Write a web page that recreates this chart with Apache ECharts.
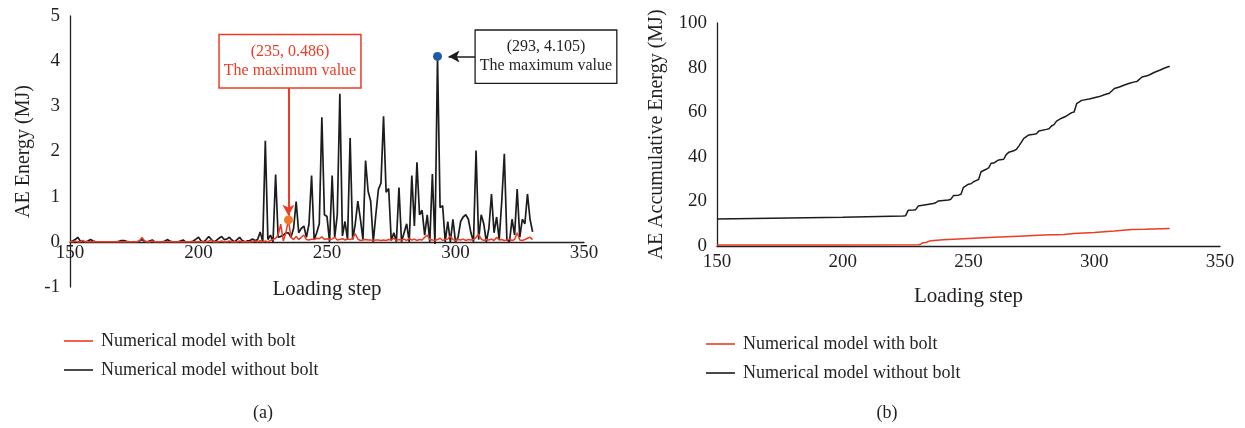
<!DOCTYPE html>
<html>
<head>
<meta charset="utf-8">
<script src="https://cdn.jsdelivr.net/npm/echarts@6/dist/echarts.min.js"></script>
<style>html,body{margin:0;padding:0;background:#fff;}#c{width:1245px;height:428px;}</style>
</head>
<body>
<div id="c"></div>
<script>
// ---------- (a) AE energy per loading step, steps 150..330 ----------
var stepStart = 150;
var energyWithout = [
  0, 0.02, 0.05, 0.1, 0.02, 0, 0, 0.02, 0.05, 0.02,
  0, 0, 0, 0, 0, 0, 0, 0, 0, 0.01,
  0.03, 0.03, 0.01, 0, 0, 0, 0, 0.02, 0.05, 0.01,
  0, 0.02, 0.04, 0, 0, 0, 0, 0.02, 0.05, 0.01,
  0, 0, 0, 0.02, 0.04, 0, 0, 0, 0.02, 0.06,
  0.1, 0.02, 0, 0.05, 0.12, 0.05, 0, 0.03, 0.08, 0.12,
  0.05, 0.06, 0.1, 0.04, 0, 0.05, 0.1, 0.03, 0, 0.02,
  0.03, 0.06, 0.03, 0.05, 0.22, 0, 2.24, 0.05, 0.15, 0,
  1.49, 0.1, 0.12, 0.15, 0.2, 0.2, 0.1, 0.3, 0.89, 0.2,
  0.3, 0.35, 0.1, 0.4, 1.47, 0.05, 0.2, 0.4, 2.76, 0.6,
  0.56, 0, 1.47, 0.1, 0.6, 3.28, 0.13, 0.45, 0.05, 2.3,
  0.05, 0.4, 0.9, 0.5, 0.05, 1.8, 1.12, 0.9, 0, 0.6,
  1.16, 1.3, 2.78, 1.1, 1.18, 0.03, 0.2, 0, 1.2, 0,
  0.2, 0.4, 0, 1.47, 0.35, 1.76, 0.6, 0.7, 0.15, 0.6,
  0, 1.5, -0.05, 4.105, 0.76, 0.8, 0, 0.45, 0, 0.5,
  0, 0.1, 0.45, 0.55, 0.6, 0.5, 0.2, 0, 2.02, 0.05,
  0.6, 0.4, 0, 0.3, 1.06, 0.2, 0.55, 0.05, 0.9, 1.95,
  0.05, 0, 0.5, 0.15, 1.17, 0.1, 0.5, 0.4, 1.06, 0.5,
  0.22
];
var energyWith = [
  0, 0, 0.02, 0, 0, 0.03, 0, 0, 0, 0,
  0, 0, 0, 0, 0, 0, 0, 0, 0, 0,
  0, 0, 0, 0, 0, 0, 0, 0.02, 0.1, 0.02,
  0, 0, 0.02, 0, 0, 0, 0, 0, 0, 0,
  0, 0, 0, 0, 0, 0, 0, 0, 0, 0,
  0, 0, 0, 0, 0.02, 0.03, 0, 0, 0, 0.02,
  0, 0, 0.02, 0, 0, 0, 0.02, 0, 0, 0,
  0, 0, 0.02, 0, 0.03, 0, 0.02, 0, 0.03, 0.05,
  0.08, 0.15, 0.39, 0.02, 0.2, 0.486, 0.1, 0.05, 0.12, 0.05,
  0.1, 0.15, 0.05, 0.04, 0.06, 0.05, 0.08, 0.07, 0.11, 0.05,
  0.07, 0.05, 0.06, 0.1, 0.04, 0.05, 0.07, 0.04, 0.06, 0.05,
  0.08, 0.18, 0.06, 0.03, 0.04, 0.05, 0.04, 0.04, 0.03, 0.04,
  0.04, 0.03, 0.04, 0.03, 0.05, 0.04, 0.08, 0.03, 0.05, 0.04,
  0.06, 0.03, 0.08, 0.04, 0.06, 0.03, 0.05, 0.04, 0.1, 0.15,
  0.05, 0.04, 0.03, 0.05, 0.08, 0.03, 0.05, 0.06, 0.13, 0.05,
  0.03, 0.05, 0.04, 0.06, 0.03, 0.05, 0.04, 0.05, 0.1, 0.17,
  0.06, 0.03, 0.05, 0.04, 0.06, 0.03, 0.1, 0.04, 0.05, 0.03,
  0.04, 0.06, 0.03, 0.05, 0.2, 0.04, 0.03, 0.05, 0.08, 0.1,
  0.05
];
var maxWith = [235, 0.486];
var maxWithout = [293, 4.105];

// ---------- (b) AE accumulative energy ----------
var accStepsWithout = [150, 200, 224, 225, 226, 228, 229, 230, 236, 237, 238, 242, 243, 244, 246, 247, 248, 250, 251, 252, 253, 254, 255, 257, 258, 259, 260, 262, 264, 265, 266, 268, 269, 270, 272, 274, 276, 277, 278, 281, 282, 283, 284, 285, 287, 289, 291, 292, 293, 295, 298, 300, 302, 304, 306, 308, 310, 312, 314, 316, 317, 319, 321, 322, 324, 326, 328, 330];
var accWithout = [12.1, 12.9, 13.5, 13.6, 16.0, 16.1, 16.3, 17.9, 19.1, 19.4, 20.2, 20.6, 21.0, 22.6, 22.8, 23.2, 26.3, 27.7, 27.9, 28.8, 29.3, 29.8, 33.3, 34.4, 35.0, 37.1, 37.2, 38.6, 38.9, 41.0, 42.0, 42.7, 43.3, 44.8, 48.3, 49.8, 50.1, 50.3, 51.6, 52.3, 52.6, 53.8, 54.4, 56.0, 57.3, 58.3, 59.8, 60.1, 63.8, 65.3, 65.9, 66.5, 67.0, 67.8, 68.5, 70.6, 71.3, 72.2, 73.0, 73.6, 73.8, 75.8, 76.3, 76.8, 77.9, 78.8, 79.8, 80.6];
var accStepsWith = [150, 200, 230, 231, 232, 233, 235, 240, 250, 260, 270, 280, 288, 292, 300, 308, 315, 320, 330];
var accWith = [0.45, 0.5, 0.6, 0.8, 1.5, 1.6, 2.4, 2.8, 3.4, 3.9, 4.4, 4.9, 5.2, 5.6, 6.1, 6.7, 7.4, 7.5, 7.8];

var nameWith = 'Numerical model with bolt';
var nameWithout = 'Numerical model without bolt';
var xTicks = {min: 150, max: 350, interval: 50};

// ---------- build ----------
function seqPairs(start, vals) {
  var out = [];
  for (var i = 0; i < vals.length; i++) out.push([start + i, vals[i]]);
  return out;
}
function zipPairs(xs, ys) {
  return xs.map(function (x, i) { return [x, ys[i]]; });
}

var FONT = 'Liberation Serif';
var TXT = '#231f20';
var RED = '#ee3b24';
var BLK = '#1c1c1c';

// left plot: y from -1..5 over 271px; x-axis sits at y = 0
var leftGridH = 271;
var zeroOffset = -leftGridH * (0 - (-1)) / (5 - (-1));

function xAxisCfg(gi, offset, gap, margin) {
  return {
    type: 'value', gridIndex: gi, min: xTicks.min, max: xTicks.max, interval: xTicks.interval,
    offset: offset,
    name: 'Loading step', nameLocation: 'middle', nameGap: gap,
    nameTextStyle: {fontFamily: FONT, fontSize: 21, color: TXT},
    axisLine: {show: true, onZero: false, lineStyle: {color: TXT, width: 1.3}},
    axisTick: {show: false},
    splitLine: {show: false},
    axisLabel: {fontFamily: FONT, fontSize: 19, color: TXT, margin: margin}
  };
}
function yAxisCfg(gi, min, max, interval, name, gap) {
  return {
    type: 'value', gridIndex: gi, min: min, max: max, interval: interval,
    name: name, nameLocation: 'middle', nameGap: gap,
    nameTextStyle: {fontFamily: FONT, fontSize: 20, color: TXT},
    axisLine: {show: true, onZero: false, lineStyle: {color: TXT, width: 1.3}},
    axisTick: {show: false},
    splitLine: {show: false},
    axisLabel: {fontFamily: FONT, fontSize: 19, color: TXT, margin: 10}
  };
}

var chart = echarts.init(document.getElementById('c'), null, {renderer: 'canvas'});
var option = {
  animation: false,
  backgroundColor: '#fff',
  grid: [
    {left: 70, top: 16, width: 514, height: leftGridH},
    {left: 717, top: 23, width: 503, height: 223}
  ],
  xAxis: [xAxisCfg(0, zeroOffset, 37, 2), xAxisCfg(1, 0, 40, 7)],
  yAxis: [
    yAxisCfg(0, -1, 5, 1, 'AE Energy (MJ)', 36),
    yAxisCfg(1, 0, 100, 20, 'AE Accumulative Energy (MJ)', 50)
  ],
  legend: [
    {orient: 'vertical', left: 59, top: 327, icon: 'rect', itemWidth: 29, itemHeight: 1.6, itemGap: 11,
     data: [nameWith, nameWithout],
     textStyle: {fontFamily: FONT, fontSize: 18, color: TXT, padding: [0, 0, 0, 3]}},
    {orient: 'vertical', left: 701, top: 330, icon: 'rect', itemWidth: 29, itemHeight: 1.6, itemGap: 11,
     data: [nameWith, nameWithout],
     textStyle: {fontFamily: FONT, fontSize: 18, color: TXT, padding: [0, 0, 0, 3]}}
  ],
  graphic: [
    {type: 'text', x: 263, y: 413, style: {text: '(a)', font: '18px "Liberation Serif"', fill: TXT, textAlign: 'center', textVerticalAlign: 'middle'}},
    {type: 'text', x: 887, y: 413, style: {text: '(b)', font: '18px "Liberation Serif"', fill: TXT, textAlign: 'center', textVerticalAlign: 'middle'}}
  ],
  series: [
    {
      name: nameWithout, type: 'line', xAxisIndex: 0, yAxisIndex: 0,
      data: seqPairs(stepStart, energyWithout), symbol: 'none', z: 2,
      lineStyle: {color: BLK, width: 1.7}, itemStyle: {color: BLK},
      markLine: {
        silent: true, symbol: ['none', 'arrow'], symbolSize: [9, 11],
        lineStyle: {color: BLK, width: 1.5, type: 'solid'}, label: {show: false},
        data: [[{coord: [308, maxWithout[1]]}, {coord: [297.3, maxWithout[1]]}]]
      },
      markPoint: {
        silent: true,
        data: [
          {coord: maxWithout, symbol: 'circle', symbolSize: 9, itemStyle: {color: '#1d5ba6'}, label: {show: false}},
          {coord: [335.2, 4.1], symbol: 'rect', symbolSize: 1, itemStyle: {color: 'rgba(0,0,0,0)'},
           label: {show: true, position: 'inside', formatter: '(' + maxWithout[0] + ', ' + maxWithout[1] + ')\nThe maximum value',
                   fontFamily: FONT, fontSize: 16, lineHeight: 19, color: TXT, backgroundColor: '#fff',
                   borderColor: BLK, borderWidth: 1.3, padding: [7, 4], align: 'center'}}
        ]
      }
    },
    {
      name: nameWith, type: 'line', xAxisIndex: 0, yAxisIndex: 0,
      data: seqPairs(stepStart, energyWith), symbol: 'none', z: 3,
      lineStyle: {color: RED, width: 1.5}, itemStyle: {color: RED},
      markLine: {
        silent: true, symbol: ['none', 'arrow'], symbolSize: [9, 11],
        lineStyle: {color: RED, width: 2, type: 'solid'}, label: {show: false},
        data: [[{coord: [maxWith[0], 3.42]}, {coord: [maxWith[0], 0.58]}]]
      },
      markPoint: {
        silent: true,
        data: [
          {coord: maxWith, symbol: 'circle', symbolSize: 9, itemStyle: {color: '#f07a2a'}, label: {show: false}},
          {coord: [235.6, 4.0], symbol: 'rect', symbolSize: 1, itemStyle: {color: 'rgba(0,0,0,0)'},
           label: {show: true, position: 'inside', formatter: '(' + maxWith[0] + ', ' + maxWith[1] + ')\nThe maximum value',
                   fontFamily: FONT, fontSize: 16, lineHeight: 19, color: RED, backgroundColor: '#fff',
                   borderColor: RED, borderWidth: 1.5, padding: [7, 4], align: 'center'}}
        ]
      }
    },
    {
      name: nameWithout, type: 'line', xAxisIndex: 1, yAxisIndex: 1,
      data: zipPairs(accStepsWithout, accWithout), symbol: 'none', z: 2,
      lineStyle: {color: BLK, width: 1.5}, itemStyle: {color: BLK}
    },
    {
      name: nameWith, type: 'line', xAxisIndex: 1, yAxisIndex: 1,
      data: zipPairs(accStepsWith, accWith), symbol: 'none', z: 3,
      lineStyle: {color: RED, width: 1.5}, itemStyle: {color: RED}
    }
  ]
};
chart.setOption(option);
</script>
</body>
</html>
